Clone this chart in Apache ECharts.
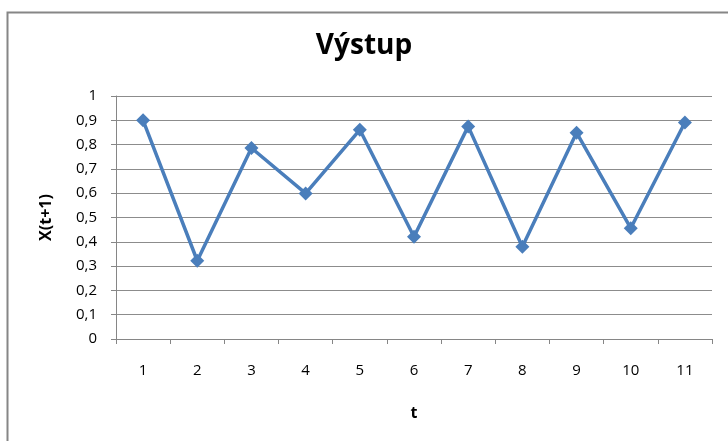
<!DOCTYPE html>
<html><head><meta charset="utf-8">
<script src="https://cdn.jsdelivr.net/npm/echarts@6/dist/echarts.min.js"></script>
<style>html,body{margin:0;padding:0;background:#fff}#c{width:728px;height:441px}</style>
</head><body><div id="c"></div>
<script>
const categories = ['1','2','3','4','5','6','7','8','9','10','11'];
const values = [0.9, 0.322, 0.786, 0.599, 0.861, 0.421, 0.875, 0.38, 0.849, 0.456, 0.891];
const yTicks = [0, 0.1, 0.2, 0.3, 0.4, 0.5, 0.6, 0.7, 0.8, 0.9, 1];

const chart = echarts.init(document.getElementById('c'));
const font = '"Open Sans", "DejaVu Sans", sans-serif';
chart.setOption({
  animation: false,
  title: {
    text: 'Výstup', left: 'center', top: 27,
    textStyle: {fontFamily: font, fontSize: 28, fontWeight: 'bold', color: '#000'}
  },
  graphic: [{
    type: 'rect', left: 5, top: 10, silent: true,
    shape: {width: 760, height: 470},
    style: {fill: 'none', stroke: '#868686', lineWidth: 2}
  }],
  grid: {left: 116, right: 16, top: 96, bottom: 102, containLabel: false},
  xAxis: {
    type: 'category', data: categories, boundaryGap: true,
    name: 't', nameLocation: 'middle', nameGap: 66,
    nameTextStyle: {fontFamily: font, fontSize: 16, fontWeight: 'bold', color: '#000'},
    axisLine: {lineStyle: {color: '#868686', width: 1}},
    axisTick: {show: true, length: 5, alignWithLabel: false, lineStyle: {color: '#868686'}},
    axisLabel: {fontFamily: font, fontSize: 15, color: '#000', margin: 24}
  },
  yAxis: {
    type: 'value', min: 0, max: 1, interval: 0.1,
    name: 'X(t+1)', nameLocation: 'middle', nameGap: 62, nameRotate: 90,
    nameTextStyle: {fontFamily: font, fontSize: 16, fontWeight: 'bold', color: '#000'},
    axisLine: {show: true, lineStyle: {color: '#868686', width: 1}},
    axisTick: {show: true, length: 5, lineStyle: {color: '#868686'}},
    splitLine: {show: true, lineStyle: {color: '#8c8c8c', width: 1}},
    axisLabel: {
      fontFamily: font, fontSize: 15, color: '#000', margin: 19,
      formatter: v => {
        const t = yTicks.find(x => Math.abs(x - v) < 1e-9);
        return (t === undefined ? v : t).toString().replace('.', ',');
      }
    }
  },
  series: [{
    type: 'line', data: values,
    symbol: 'diamond', symbolSize: 14,
    lineStyle: {color: '#4a7ebb', width: 3.5},
    itemStyle: {color: '#4a7ebb'}
  }]
});
</script></body></html>
